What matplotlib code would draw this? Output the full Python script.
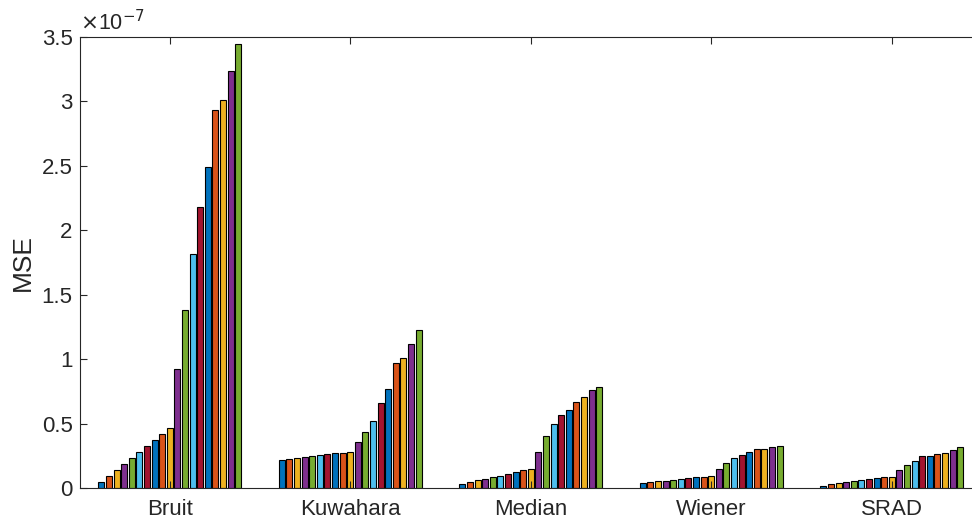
import numpy as np
import matplotlib.pyplot as plt

plt.rcParams['font.family'] = ['Liberation Sans', 'DejaVu Sans']

# MSE values, in units of 1e-7; 19 bars per filter
methods = ["Bruit", "Kuwahara", "Median", "Wiener", "SRAD"]
bruit = [0.044, 0.090, 0.137, 0.187, 0.230, 0.277, 0.327, 0.370, 0.417, 0.467,
         0.925, 1.384, 1.817, 2.177, 2.490, 2.936, 3.009, 3.237, 3.445]
kuwahara = [0.220, 0.225, 0.233, 0.241, 0.249, 0.257, 0.261, 0.269, 0.274, 0.282,
            0.355, 0.432, 0.523, 0.656, 0.772, 0.972, 1.011, 1.120, 1.223]
median = [0.031, 0.047, 0.059, 0.072, 0.086, 0.096, 0.109, 0.124, 0.137, 0.150,
          0.277, 0.407, 0.500, 0.568, 0.609, 0.666, 0.705, 0.757, 0.782]
wiener = [0.041, 0.047, 0.051, 0.057, 0.065, 0.070, 0.075, 0.082, 0.088, 0.096,
          0.145, 0.194, 0.230, 0.259, 0.280, 0.303, 0.305, 0.319, 0.329]
srad = [0.016, 0.031, 0.039, 0.049, 0.054, 0.062, 0.070, 0.078, 0.082, 0.086,
        0.142, 0.176, 0.212, 0.251, 0.251, 0.267, 0.274, 0.292, 0.316]

data = np.array([bruit, kuwahara, median, wiener, srad])
n_groups, n_bars = data.shape

colors = ["#0072BD", "#D95319", "#EDB120", "#7E2F8E", "#77AC30", "#4DBEEE", "#A2142F"]
axcol = "#262626"

fig = plt.figure(figsize=(9.72, 5.25), dpi=100)
# right edge of the box is cut off in the reference
ax = fig.add_axes([79.5 / 972, 37 / 525, 902.5 / 972, 451 / 525])
ax.patch.set_visible(False)

x = np.arange(1, n_groups + 1)
step = 0.8 / n_bars
for i in range(n_bars):
    ax.bar(x - 0.4 + step * (i + 0.5), data[:, i], width=step * 0.8,
           color=colors[i % len(colors)], edgecolor="black", linewidth=0.8)

ax.set_xlim(0.5, 5.5)
ax.set_ylim(0, 3.5)
ax.set_xticks(x)
ax.set_xticklabels(methods)
ax.set_yticks(np.arange(0, 3.51, 0.5))
ax.set_yticklabels(["0", "0.5", "1", "1.5", "2", "2.5", "3", "3.5"])
ax.tick_params(direction="in", length=5, width=0.8, colors=axcol,
               labelsize=16, top=True, right=False)
ax.tick_params(axis="y", pad=5)
ax.tick_params(axis="x", pad=8)
ax.spines["right"].set_visible(False)
for s in ax.spines.values():
    s.set_color(axcol)
    s.set_linewidth(0.8)

ax.set_ylabel("MSE", fontsize=19, color=axcol, labelpad=5)
ax.text(0.0, 1.005, r"$\times$10$^{-7}$", transform=ax.transAxes,
        fontsize=15.5, color=axcol, ha="left", va="bottom")

fig.savefig("out.png", dpi=100)
